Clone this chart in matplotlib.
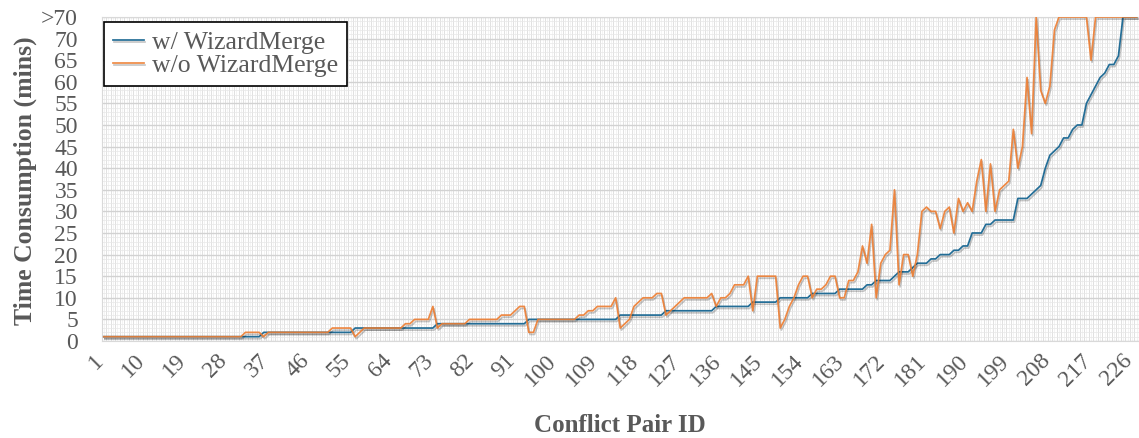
import matplotlib
matplotlib.use("Agg")
import matplotlib.pyplot as plt
import matplotlib.patheffects as pe
import matplotlib.transforms as mtransforms
import numpy as np

plt.rcParams['font.family'] = ['Liberation Serif', 'DejaVu Serif']

# time (mins) per conflict pair, values > 70 drawn at the ">70" level (75)
with_wm = [
    1, 1, 1, 1, 1, 1, 1, 1, 1, 1, 1, 1, 1, 1, 1, 1, 1, 1, 1, 1,
    1, 1, 1, 1, 1, 1, 1, 1, 1, 1, 1, 1, 1, 1, 1, 2, 2, 2, 2, 2,
    2, 2, 2, 2, 2, 2, 2, 2, 2, 2, 2, 2, 2, 2, 2, 3, 3, 3, 3, 3,
    3, 3, 3, 3, 3, 3, 3, 3, 3, 3, 3, 3, 3, 4, 4, 4, 4, 4, 4, 4,
    4, 4, 4, 4, 4, 4, 4, 4, 4, 4, 4, 4, 4, 5, 5, 5, 5, 5, 5, 5,
    5, 5, 5, 5, 5, 5, 5, 5, 5, 5, 5, 5, 5, 6, 6, 6, 6, 6, 6, 6,
    6, 6, 6, 7, 7, 7, 7, 7, 7, 7, 7, 7, 7, 7, 8, 8, 8, 8, 8, 8,
    8, 8, 9, 9, 9, 9, 9, 9, 10, 10, 10, 10, 10, 10, 10, 11, 11, 11, 11, 11,
    11, 12, 12, 12, 12, 12, 12, 13, 13, 14, 14, 14, 14, 15, 16, 16, 16, 17, 18, 18,
    18, 19, 19, 20, 20, 20, 21, 21, 22, 22, 25, 25, 25, 27, 27, 28, 28, 28, 28, 28,
    33, 33, 33, 34, 35, 36, 40, 43, 44, 45, 47, 47, 49, 50, 50, 55, 57, 59, 61, 62,
    64, 64, 66, 75, 75, 75, 75,
]
without_wm = [
    1, 1, 1, 1, 1, 1, 1, 1, 1, 1, 1, 1, 1, 1, 1, 1, 1, 1, 1, 1,
    1, 1, 1, 1, 1, 1, 1, 1, 1, 1, 1, 2, 2, 2, 2, 1, 2, 2, 2, 2,
    2, 2, 2, 2, 2, 2, 2, 2, 2, 2, 3, 3, 3, 3, 3, 1, 2, 3, 3, 3,
    3, 3, 3, 3, 3, 3, 4, 4, 5, 5, 5, 5, 8, 3, 4, 4, 4, 4, 4, 4,
    5, 5, 5, 5, 5, 5, 5, 6, 6, 6, 7, 8, 8, 2, 2, 5, 5, 5, 5, 5,
    5, 5, 5, 5, 6, 6, 7, 7, 8, 8, 8, 8, 10, 3, 4, 5, 8, 9, 10, 10,
    10, 11, 11, 6, 7, 8, 9, 10, 10, 10, 10, 10, 10, 11, 8, 10, 10, 11, 13, 13,
    13, 15, 7, 15, 15, 15, 15, 15, 3, 5, 8, 10, 13, 15, 15, 10, 12, 12, 13, 15,
    15, 10, 10, 14, 14, 16, 22, 18, 27, 10, 18, 20, 21, 35, 13, 20, 20, 15, 20, 30,
    31, 30, 30, 26, 30, 31, 25, 33, 30, 32, 30, 37, 42, 30, 41, 30, 35, 36, 37, 49,
    40, 45, 61, 48, 75, 58, 55, 59, 72, 75, 75, 75, 75, 75, 75, 75, 65, 75, 75, 75,
    75, 75, 75, 75, 75, 75, 75,
]
y_ticks = [0, 5, 10, 15, 20, 25, 30, 35, 40, 45, 50, 55, 60, 65, 70, 75]
y_labels = ['0', '5', '10', '15', '20', '25', '30', '35', '40', '45', '50',
            '55', '60', '65', '70', '>70']

ids = np.arange(1, len(with_wm) + 1)
n = len(ids)
grey = '#595959'

fig = plt.figure(figsize=(11.39, 4.38), dpi=100)
ax = fig.add_axes([101.5 / 1139, 97 / 438, 1037.5 / 1139, 324 / 438])

# dense excel-like gridlines
ax.vlines(np.arange(0.5, n + 1), 0, 75, color='#dcdcdc', lw=0.6, zorder=0)
ax.vlines(np.arange(1, n + 1), 0, 75, color='#efefef', lw=0.5, zorder=0)
ax.hlines(np.arange(0, 76, 1), 0.5, n + 0.5, color='#e8e8e8', lw=0.5, zorder=0)
ax.hlines(np.arange(0, 76, 5), 0.5, n + 0.5, color='#d2d2d2', lw=1.0, zorder=0)

shadow = [pe.SimpleLineShadow(offset=(0.8, -1.5), shadow_color='k', alpha=0.22),
          pe.Normal()]
ax.plot(ids, with_wm, color='#236d96', lw=1.25, label='w/ WizardMerge',
        path_effects=shadow, zorder=3)
ax.plot(ids, without_wm, color='#ed7d31', lw=1.25, alpha=0.9,
        label='w/o WizardMerge', path_effects=shadow, zorder=4)

ax.set_xlim(0.5, n + 0.5)
ax.set_ylim(0, 75)
for s in ax.spines.values():
    s.set_color('#d9d9d9')

ax.set_yticks(y_ticks)
ax.set_yticklabels(y_labels)
ax.set_xticks(np.arange(1, n, 9))
ax.set_xticklabels([str(v) for v in np.arange(1, n, 9)])
ax.tick_params(axis='y', length=0, pad=17, labelsize=17, labelcolor=grey)
ax.tick_params(axis='x', length=0, pad=12, labelsize=17, labelcolor=grey)
shift = mtransforms.ScaledTranslation(-3 / 100, 0, fig.dpi_scale_trans)
for lab in ax.get_xticklabels():
    lab.set_rotation(45)
    lab.set_ha('right')
    lab.set_va('center')
    lab.set_rotation_mode('anchor')
    lab.set_transform(lab.get_transform() + shift)

fig.text(25 / 1139, 1 - 181 / 438, 'Time Consumption (mins)', rotation=90,
         ha='center', va='center', fontsize=18.5, fontweight='bold', color=grey)
fig.text(620 / 1139, 1 - 425 / 438, 'Conflict Pair ID', ha='center',
         va='center', fontsize=18, fontweight='bold', color=grey)

leg = ax.legend(loc='upper left', bbox_to_anchor=(104 / 1139, 1 - 22 / 438),
                bbox_transform=fig.transFigure, borderaxespad=0, fancybox=False,
                edgecolor='black', framealpha=1, fontsize=18.5, handlelength=1.2,
                handletextpad=0.3, borderpad=0.35, labelspacing=0.0)
leg.get_frame().set_linewidth(1.2)
for t in leg.get_texts():
    t.set_color(grey)

fig.savefig('out.png', dpi=100)
